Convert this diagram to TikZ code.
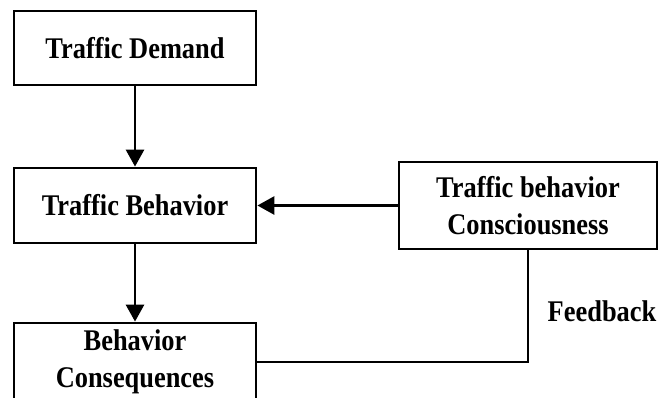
\documentclass[tikz,border=0pt]{standalone}
\usepackage{fontspec}
\setmainfont{Liberation Serif}[FakeStretch=0.88]
\usetikzlibrary{arrows.meta}

\begin{document}
\begin{tikzpicture}[x=1pt, y=-1pt, >={Triangle[length=17pt, width=18pt]}, line width=2.8pt,
		box/.style={draw, align=center, inner sep=0pt, font=\fontsize{30}{37}\selectfont\bfseries}]
				% 1. 画布范围
				\useasboundingbox (0, 0) rectangle (660, 397);
				
				% 2. 方框
				\node[box, minimum width=242pt, minimum height=74pt] (demand) at (135, 48) {Traffic Demand};
				\node[box, minimum width=242pt, minimum height=75pt] (behavior) at (135, 205.5) {Traffic Behavior};
				\node[box, minimum width=242pt, minimum height=78pt] (conseq) at (135, 362) {Behavior\\Consequences};
				\node[box, minimum width=258pt, minimum height=87pt] (conscious) at (528, 205.5) {Traffic behavior\\Consciousness};
				
				% 3. 箭头与反馈线
				\draw[->] (demand) -- (behavior);
				\draw[->] (behavior) -- (conseq);
				\draw[->] (conscious) -- (behavior);
				\draw (conseq.east) -| (conscious.south);
				\node[font=\fontsize{30}{37}\selectfont\bfseries] (feedback) at (602, 311) {Feedback};
			\end{tikzpicture}
\end{document}
